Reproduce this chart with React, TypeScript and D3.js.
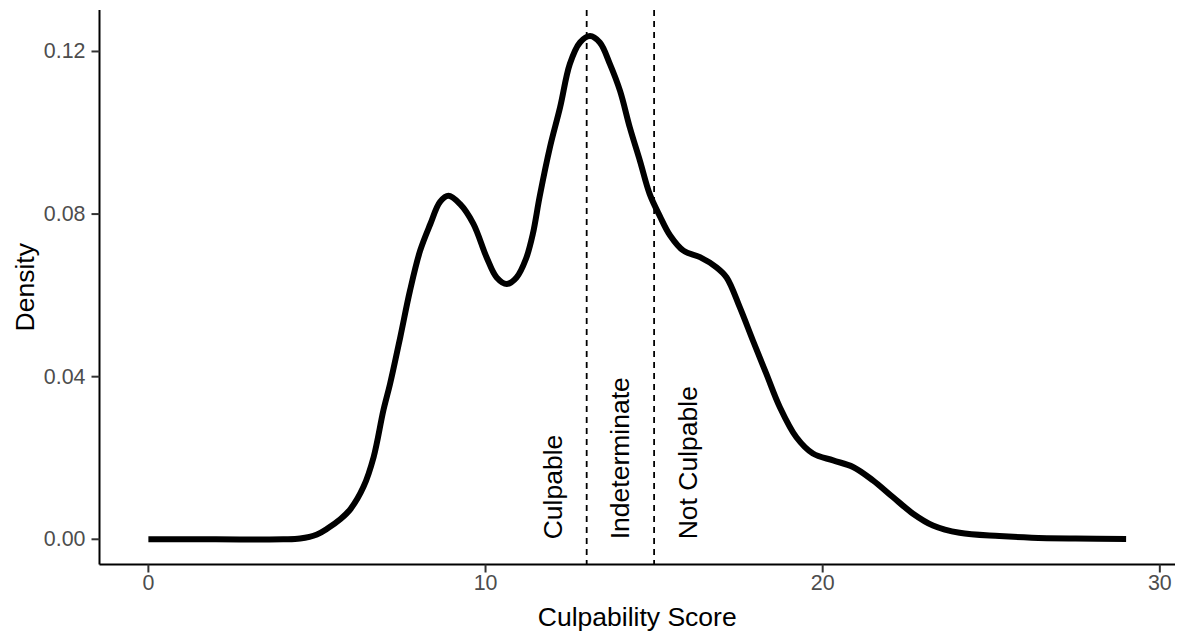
import React from "react";
import * as d3 from "d3";

const densityX = [0, 2, 4, 4.5, 5.0, 5.3, 5.7, 6.0, 6.38, 6.68, 6.97, 7.17, 7.47, 7.76, 8.06, 8.36, 8.65, 8.9, 9.24, 9.64, 10.03, 10.33, 10.63, 10.92, 11.2, 11.4, 11.61, 11.91, 12.21, 12.5, 12.8, 13.1, 13.39, 13.69, 13.99, 14.28, 14.58, 14.87, 15.17, 15.47, 15.87, 16.36, 16.85, 17.15, 17.54, 17.93, 18.33, 18.73, 19.22, 19.71, 20.31, 20.9, 21.49, 22.08, 22.68, 23.27, 24.06, 25.24, 26.2, 27.5, 29];
const densityY = [0, 0, 0, 0.0002, 0.0012, 0.0026, 0.005, 0.0075, 0.0129, 0.0202, 0.0317, 0.0383, 0.0497, 0.0612, 0.071, 0.0775, 0.083, 0.0845, 0.0825, 0.0776, 0.0694, 0.0644, 0.0628, 0.0644, 0.069, 0.075, 0.0845, 0.0964, 0.1062, 0.1169, 0.1222, 0.1238, 0.1222, 0.1169, 0.1103, 0.1013, 0.0931, 0.0849, 0.0795, 0.0748, 0.071, 0.0694, 0.0669, 0.0644, 0.0571, 0.0489, 0.0407, 0.0325, 0.0251, 0.0211, 0.0194, 0.0178, 0.0145, 0.0104, 0.0063, 0.0034, 0.0016, 0.0008, 0.0004, 0.0002, 0.0001];

const cutoffs = [13, 15];
const annotationLabels = ["Culpable", "Indeterminate", "Not Culpable"];
const annotationX = [12, 14, 16];

const xTicks = [0, 10, 20, 30];
const yTicks = [0, 0.04, 0.08, 0.12];

const W = 1179;
const H = 632;
const left = 99.5;
const right = 1175;
const top = 10;
const bottom = 564.5;
const FONT = "'Liberation Sans', Arial, sans-serif";

export default function App() {
  const x = d3.scaleLinear().domain([-1.45, 30.45]).range([left, right]);
  const y = d3.scaleLinear().domain([-0.0062, 0.1302]).range([bottom, top]);
  const pts: [number, number][] = densityX.map((v, i) => [v, densityY[i]]);
  const line = d3
    .line<[number, number]>()
    .x((d) => x(d[0]))
    .y((d) => y(d[1]))
    .curve(d3.curveCatmullRom.alpha(0.5));

  return (
    <svg
      width={W}
      height={H}
      style={{ position: "absolute", left: 0, top: 0, background: "#fff" }}
      fontFamily={FONT}
    >
      <rect x={0} y={0} width={W} height={H} fill="#fff" />
      {cutoffs.map((c) => (
        <line
          key={c}
          x1={x(c)}
          x2={x(c)}
          y1={top}
          y2={bottom}
          stroke="#000"
          strokeWidth={1.8}
          strokeDasharray="6,5"
        />
      ))}
      <path d={line(pts) || ""} fill="none" stroke="#000" strokeWidth={6} strokeLinejoin="round" />
      {annotationLabels.map((t, i) => (
        <text
          key={t}
          transform={`translate(${x(annotationX[i])},${y(0)}) rotate(-90)`}
          textAnchor="start"
          dominantBaseline="central"
          fontSize={26.5}
          fill="#000"
        >
          {t}
        </text>
      ))}
      <line x1={left} x2={left} y1={top} y2={bottom} stroke="#000" strokeWidth={2} />
      <line x1={left} x2={right} y1={bottom} y2={bottom} stroke="#000" strokeWidth={2} />
      {yTicks.map((t) => (
        <g key={t}>
          <line x1={left - 8} x2={left} y1={y(t)} y2={y(t)} stroke="#333" strokeWidth={2} />
          <text
            x={left - 14}
            y={y(t)}
            textAnchor="end"
            dominantBaseline="central"
            fontSize={21.4}
            fill="#4d4d4d"
          >
            {d3.format(".2f")(t)}
          </text>
        </g>
      ))}
      {xTicks.map((t) => (
        <g key={t}>
          <line x1={x(t)} x2={x(t)} y1={bottom} y2={bottom + 8} stroke="#333" strokeWidth={2} />
          <text x={x(t)} y={bottom + 25} textAnchor="middle" fontSize={21.4} fill="#4d4d4d">
            {t}
          </text>
        </g>
      ))}
      <text x={(left + right) / 2} y={626} textAnchor="middle" fontSize={26.5} fill="#000">
        Culpability Score
      </text>
      <text
        transform={`translate(${34},${(top + bottom) / 2}) rotate(-90)`}
        textAnchor="middle"
        fontSize={26.5}
        fill="#000"
      >
        Density
      </text>
    </svg>
  );
}
